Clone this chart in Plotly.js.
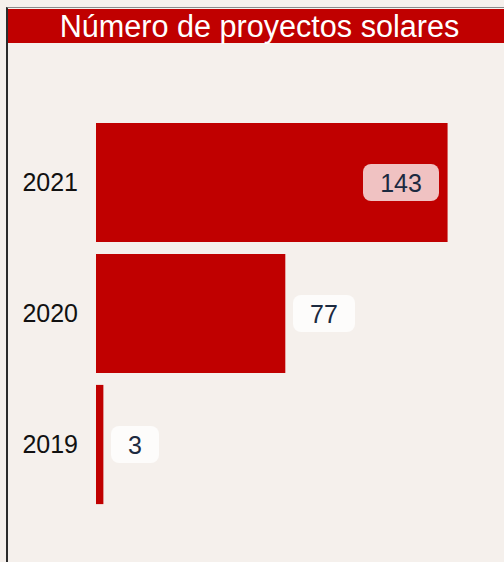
<!DOCTYPE html>
<html>
<head>
<meta charset="utf-8">
<script src="https://cdn.plot.ly/plotly-3.0.1.min.js"></script>
<style>
  html, body { margin: 0; padding: 0; background: #f5f0ec; overflow: hidden; width: 504px; height: 562px; }
  #frame { position: absolute; left: 6px; top: 7px; width: 600px; height: 600px;
           border-left: 2px solid #2b2b2b; border-top: 1px solid #8a8a8a; }
  #chart { position: absolute; left: 8px; top: 9px; width: 496px; height: 553px; }
</style>
</head>
<body>
<div id="frame"></div>
<div id="chart"></div>
<script>
// Data
const years = ['2019', '2020', '2021'];
const projects = [3, 77, 143];
const chartTitle = 'Número de proyectos solares';

const RED = '#c00000';
const BG = '#f5f0ec';
const LABEL_COLOR = '#1c2a40';
const FONT = 'Arial, "Liberation Sans", sans-serif';

const maxVal = Math.max(...projects);

const trace = {
  type: 'bar',
  orientation: 'h',
  y: years,
  x: projects,
  marker: { color: RED },
  hoverinfo: 'none'
};

const annotations = projects.map((v, i) => {
  const inside = v > 0.7 * maxVal;
  const txt = String(v);
  return {
    x: v, y: i, xref: 'x', yref: 'y',
    text: txt,
    showarrow: false,
    xanchor: inside ? 'right' : 'left',
    xshift: inside ? -9 : 8,
    yanchor: 'middle',
    font: { family: FONT, size: 25, color: LABEL_COLOR },
    bgcolor: 'rgba(255,255,255,0.76)',
    width: txt.length * 14 + 34,
    height: 37,
    borderpad: 0,
    borderwidth: 0
  };
});

const layout = {
  width: 496, height: 553,
  paper_bgcolor: BG, plot_bgcolor: BG,
  margin: { l: 88, r: 22, t: 108, b: 52 },
  bargap: 0.09,
  showlegend: false,
  title: {
    text: chartTitle,
    font: { family: FONT, size: 30.6, color: '#ffffff' },
    x: 0.507, xanchor: 'center',
    y: 1 - 17 / 553, yref: 'container', yanchor: 'middle'
  },
  xaxis: {
    range: [0, 157], autorange: false, showgrid: false, zeroline: false, showticklabels: false,
    showline: false, ticks: '', fixedrange: true
  },
  yaxis: {
    type: 'category', categoryorder: 'array', categoryarray: years,
    range: [-0.5, years.length - 0.5], autorange: false,
    showgrid: false, zeroline: false, showline: false, ticks: '',
    tickfont: { family: FONT, size: 25, color: '#111111' },
    ticklabelstandoff: 17, fixedrange: true
  },
  shapes: [{
    type: 'rect', xref: 'paper', yref: 'paper', layer: 'below',
    x0: -0.3, x1: 1.2,
    y0: (510 - 43) / 393, y1: (510 - 9) / 393 + 0.05,
    fillcolor: RED, line: { width: 0 }
  }],
  annotations: annotations
};

Plotly.newPlot('chart', [trace], layout, { displayModeBar: false, staticPlot: true }).then(() => {
  document.querySelectorAll('#chart .annotation rect.bg').forEach(r => {
    r.setAttribute('rx', 8); r.setAttribute('ry', 8);
  });
});
</script>
</body>
</html>
